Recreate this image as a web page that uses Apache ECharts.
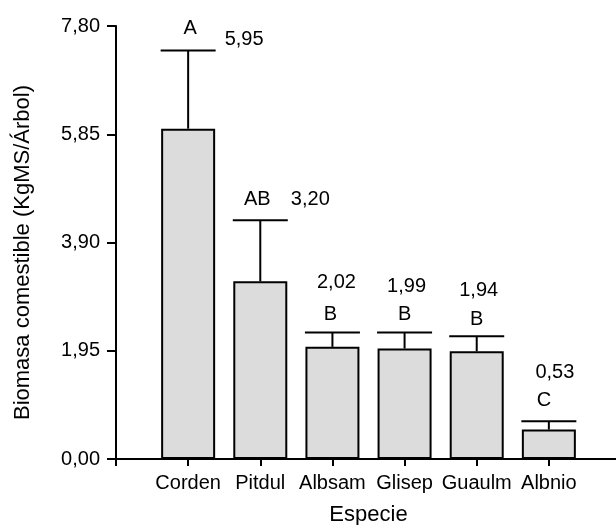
<!DOCTYPE html>
<html>
<head>
<meta charset="utf-8">
<script src="https://cdn.jsdelivr.net/npm/echarts@6/dist/echarts.min.js"></script>
<style>
html, body { margin: 0; padding: 0; background: #fff; }
#main { width: 616px; height: 525px; }
</style>
</head>
<body>
<div id="main"></div>
<script>
var especies = ["Corden", "Pitdul", "Albsam", "Glisep", "Guaulm", "Albnio"];
var medias = [5.95, 3.20, 2.02, 1.99, 1.94, 0.53];
var superior = [7.36, 4.30, 2.28, 2.28, 2.21, 0.68]; // media + error
var letras = ["A", "AB", "B", "B", "B", "C"];
var yTicks = [0, 1.95, 3.90, 5.85, 7.80];

// desplazamiento de los textos respecto al extremo de la barra de error
var offLetra = [[2, -22], [-3, -21], [-2, -18], [0, -18], [0, -17], [-5, -21]];
var offValor = [[56, -11], [50, -21], [4, -50], [2, -46], [2, -46], [6, -49]];

var fuente = "'Liberation Sans', Arial, Helvetica, sans-serif";
function coma(v) { return v.toFixed(2).replace(".", ","); }

var barData = [];
var errData = [];
for (var i = 0; i < especies.length; i++) {
    barData.push([i + 1, medias[i]]);
    errData.push([i + 1, medias[i], superior[i]]);
}

var myChart = echarts.init(document.getElementById("main"));
var option = {
    backgroundColor: "#fff",
    animation: false,
    grid: { left: 116, top: 26, bottom: 66, width: 505, outerBoundsMode: "none" },
    xAxis: {
        type: "value",
        min: 0,
        max: especies.length + 1,
        interval: 1,
        name: "Especie",
        nameLocation: "middle",
        nameGap: 45,
        nameTextStyle: { color: "#000", fontSize: 22, fontFamily: fuente },
        splitLine: { show: false },
        axisLine: { lineStyle: { color: "#000", width: 2 } },
        axisTick: { length: 7, lineStyle: { color: "#000", width: 2 } },
        axisLabel: {
            color: "#000",
            fontSize: 20,
            fontFamily: fuente,
            margin: 14,
            showMinLabel: true,
            showMaxLabel: true,
            formatter: function (v) { return especies[v - 1] || ""; }
        }
    },
    yAxis: {
        type: "value",
        min: 0,
        max: yTicks[yTicks.length - 1],
        interval: 1.95,
        name: "Biomasa comestible (KgMS/Árbol)",
        nameLocation: "middle",
        nameGap: 82,
        nameTextStyle: { color: "#000", fontSize: 22, fontFamily: fuente, padding: [0, 20, 0, 0] },
        splitLine: { show: false },
        axisLine: { show: true, lineStyle: { color: "#000", width: 2 } },
        axisTick: { show: true, length: 9, lineStyle: { color: "#000", width: 2 } },
        axisLabel: {
            color: "#000",
            fontSize: 20,
            fontFamily: fuente,
            margin: 16,
            formatter: function (v) { return coma(v); }
        }
    },
    series: [
        {
            name: "media",
            type: "bar",
            data: barData,
            barWidth: 54,
            itemStyle: { color: "#dcdcdc", borderColor: "#000", borderWidth: 2 },
            z: 2
        },
        {
            name: "error",
            type: "custom",
            data: errData,
            z: 3,
            renderItem: function (params, api) {
                var k = params.dataIndex;
                var base = api.coord([api.value(0), api.value(1)]);
                var top = api.coord([api.value(0), api.value(2)]);
                var half = 27.5;
                var estilo = { stroke: "#000", lineWidth: 2 };
                return {
                    type: "group",
                    children: [
                        { type: "line", shape: { x1: top[0], y1: base[1], x2: top[0], y2: top[1] }, style: estilo },
                        { type: "line", shape: { x1: top[0] - half, y1: top[1], x2: top[0] + half, y2: top[1] }, style: estilo },
                        {
                            type: "text",
                            x: top[0] + offLetra[k][0],
                            y: top[1] + offLetra[k][1],
                            style: { text: letras[k], fill: "#000", fontSize: 20, fontFamily: fuente, align: "center", verticalAlign: "middle" }
                        },
                        {
                            type: "text",
                            x: top[0] + offValor[k][0],
                            y: top[1] + offValor[k][1],
                            style: { text: coma(medias[k]), fill: "#000", fontSize: 20, fontFamily: fuente, align: "center", verticalAlign: "middle" }
                        }
                    ]
                };
            }
        }
    ]
};
myChart.setOption(option);
</script>
</body>
</html>
